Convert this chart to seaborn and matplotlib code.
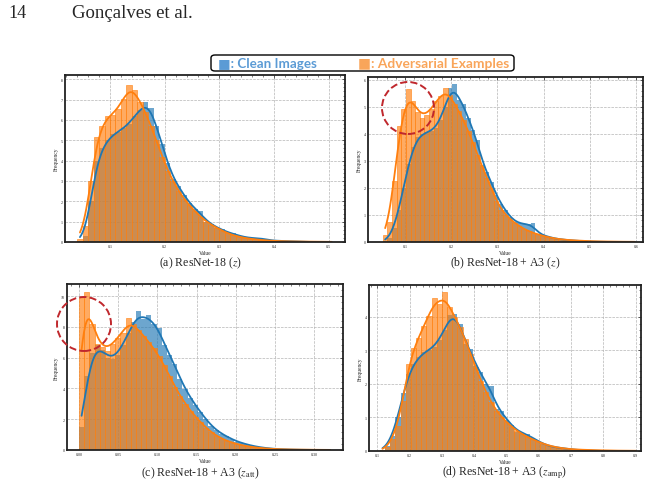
import numpy as np
import matplotlib.pyplot as plt
import seaborn as sns
from matplotlib.patches import Ellipse, FancyBboxPatch
from matplotlib.ticker import AutoMinorLocator, MultipleLocator, FormatStrFormatter

# per-bin heights (clean = blue, adversarial = orange)
a_clean = [0.05, 0.3, 2.0, 4.0, 4.6, 5.0, 5.3, 5.4, 5.6, 5.8,
           6.2, 6.5, 6.9, 6.6, 5.7, 4.8, 3.9, 3.1, 2.75, 2.3,
           1.93, 1.6, 1.5, 1.0, 0.9, 0.7, 0.62, 0.45, 0.43, 0.3,
           0.25, 0.2, 0.17, 0.22, 0.1, 0.08, 0.06, 0.05, 0.04, 0.03,
           0.02, 0.01, 0.0, 0.0, 0.0, 0.0, 0.0]
a_adv = [0.16, 0.8, 3.0, 5.15, 5.7, 6.2, 6.25, 6.55, 7.05, 7.7,
         7.45, 6.9, 6.4, 5.7, 5.0, 4.2, 3.5, 3.0, 2.5, 2.1,
         1.8, 1.5, 1.25, 1.0, 0.85, 0.7, 0.55, 0.42, 0.33, 0.26,
         0.2, 0.16, 0.13, 0.1, 0.08, 0.06, 0.05, 0.04, 0.03, 0.03,
         0.02, 0.02, 0.02, 0.015, 0.01, 0.01, 0.01]

b_clean = [0.02, 0.15, 0.5, 1.2, 2.0, 2.9, 3.5, 3.9, 4.0, 4.05,
           4.1, 4.2, 4.5, 5.0, 5.7, 5.83, 5.25, 5.1, 4.57, 4.14,
           3.77, 2.84, 2.6, 2.2, 1.73, 1.42, 1.17, 0.93, 0.74, 0.7,
           0.65, 0.66, 0.69, 0.28, 0.25, 0.22, 0.15, 0.12, 0.1, 0.08,
           0.06, 0.05, 0.04, 0.03, 0.02, 0.01, 0.01, 0.01, 0.0, 0.0,
           0.0, 0.0, 0.0, 0.0, 0.0]
b_adv = [0.25, 0.75, 2.25, 4.3, 4.9, 5.65, 5.2, 4.8, 4.6, 4.7,
         4.9, 5.2, 5.4, 5.7, 5.45, 5.1, 4.85, 4.5, 4.1, 3.7,
         3.2, 2.8, 2.35, 2.0, 1.5, 1.2, 1.0, 0.85, 0.7, 0.58,
         0.48, 0.4, 0.34, 0.28, 0.23, 0.19, 0.15, 0.12, 0.1, 0.08,
         0.07, 0.06, 0.05, 0.04, 0.03, 0.03, 0.02, 0.02, 0.02, 0.01,
         0.01, 0.01, 0.01, 0.01, 0.01]

c_clean = [1.5, 4.8, 6.3, 6.8, 6.5, 6.0, 5.9, 6.2, 6.8, 7.6,
           8.3, 9.0, 8.5, 8.74, 8.2, 7.9, 6.8, 6.14, 5.6, 4.6,
           3.97, 3.4, 2.9, 2.45, 2.0, 1.58, 1.3, 1.04, 0.9, 0.7,
           0.55, 0.45, 0.35, 0.27, 0.2, 0.15, 0.11, 0.08, 0.06, 0.04,
           0.03, 0.02, 0.015, 0.01, 0.005, 0.0, 0.0, 0.0, 0.0]
c_adv = [9.9, 10.26, 8.2, 6.9, 6.7, 6.4, 6.9, 7.3, 7.6, 8.55,
         8.2, 7.8, 7.4, 7.0, 6.6, 6.1, 5.5, 4.8, 4.1, 3.5,
         3.0, 2.55, 2.15, 1.8, 1.45, 1.15, 0.92, 0.74, 0.6, 0.48,
         0.38, 0.3, 0.24, 0.19, 0.15, 0.11, 0.09, 0.07, 0.05, 0.04,
         0.035, 0.03, 0.025, 0.02, 0.015, 0.01, 0.01, 0.01, 0.01]

d_clean = [0.03, 0.15, 0.45, 1.0, 1.73, 2.3, 2.6, 2.8, 2.95, 3.0,
           3.1, 3.3, 3.6, 4.06, 4.1, 3.8, 3.2, 3.05, 2.53, 2.35,
           2.0, 1.93, 1.25, 1.2, 0.93, 0.78, 0.58, 0.55, 0.5, 0.4,
           0.3, 0.22, 0.16, 0.12, 0.1, 0.08, 0.06, 0.04, 0.03, 0.02,
           0.02, 0.01, 0.0, 0.0, 0.0, 0.0, 0.0, 0.0, 0.0, 0.0]
d_adv = [0.02, 0.12, 0.35, 0.75, 1.5, 2.58, 3.08, 3.38, 3.73, 4.03,
         4.55, 4.38, 4.73, 4.28, 4.0, 3.7, 3.35, 2.9, 2.5, 2.1,
         1.75, 1.45, 1.2, 1.0, 0.85, 0.72, 0.6, 0.5, 0.42, 0.35,
         0.28, 0.22, 0.17, 0.13, 0.1, 0.08, 0.06, 0.05, 0.04, 0.035,
         0.03, 0.025, 0.02, 0.02, 0.015, 0.01, 0.01, 0.01, 0.01, 0.01]

captions = [r"(a) ResNet-18 ($z$)",
            r"(b) ResNet-18 + A3 ($z$)",
            r"(c) ResNet-18 + A3 ($z_{\mathrm{att}}$)",
            r"(d) ResNet-18 + A3 ($z_{\mathrm{amp}}$)"]

BLUE = "#1f77b4"
ORANGE = "#ff7f0e"
W, H = 657, 485

sns.set_theme(style="whitegrid")
plt.rcParams["font.family"] = ["Liberation Serif", "DejaVu Serif"]
plt.rcParams["mathtext.fontset"] = "stix"
plt.rcParams["axes.edgecolor"] = "#222222"
plt.rcParams["axes.linewidth"] = 1.3
plt.rcParams["grid.linestyle"] = "--"
plt.rcParams["grid.color"] = "#b5b5b5"
plt.rcParams["grid.linewidth"] = 0.5

fig = plt.figure(figsize=(W / 100, H / 100), dpi=100)


def px_rect(x0, y0, x1, y1):
    return [x0 / W, 1 - y1 / H, (x1 - x0) / W, (y1 - y0) / H]


def panel(rect, start, width, clean, adv, xlim, ylim, xstep, ystep, xfmt):
    ax = fig.add_axes(rect)
    n = len(clean)
    centers = start + width * (np.arange(n) + 0.5)
    # blue bars without outlines, orange bars outlined in orange
    for vals, col, lw in [(clean, BLUE, 0), (adv, ORANGE, 0.4)]:
        sns.histplot(x=centers, weights=vals, bins=n,
                     binrange=(start, start + n * width), stat="count", kde=True,
                     color=col, alpha=0.65, edgecolor=col, linewidth=lw,
                     kde_kws={"bw_adjust": 0.3, "cut": 0},
                     line_kws={"linewidth": 1.3}, ax=ax)
    ax.set_xlim(*xlim)
    ax.set_ylim(*ylim)
    ax.xaxis.set_major_locator(MultipleLocator(xstep))
    ax.yaxis.set_major_locator(MultipleLocator(ystep))
    ax.xaxis.set_major_formatter(FormatStrFormatter(xfmt))
    ax.xaxis.set_minor_locator(AutoMinorLocator(5))
    ax.yaxis.set_minor_locator(AutoMinorLocator(5))
    ax.tick_params(which="both", direction="in", top=True, right=True,
                   labelsize=3, pad=1.5, color="#222222")
    ax.tick_params(which="major", length=2.5, width=0.5)
    ax.tick_params(which="minor", length=1.3, width=0.4)
    ax.grid(True, which="major")
    ax.set_xlabel("Value", fontsize=4, labelpad=1.5)
    ax.set_ylabel("Frequency", fontsize=4, labelpad=1.5)
    return ax


panel(px_rect(65, 76, 345, 243), 0.040, 0.010, a_clean, a_adv,
      (0.0177, 0.5296), (0, 8.21), 0.1, 1, "%.1f")
panel(px_rect(368, 78, 643, 243), 0.052, 0.010, b_clean, b_adv,
      (0.0199, 0.615), (0, 6.1), 0.1, 1, "%.1f")
panel(px_rect(67, 285, 343, 451), 0.0, 0.0066, c_clean, c_adv,
      (-0.0153, 0.3367), (0, 10.78), 0.05, 2, "%.2f")
panel(px_rect(369, 286, 641, 452), 0.108, 0.016, d_clean, d_adv,
      (0.0743, 0.9164), (0, 4.95), 0.1, 1, "%.1f")

# captions under each panel
for (cx, cy), text in zip([(200, 263), (505, 263), (200, 473), (505, 473)], captions):
    fig.text(cx / W, 1 - cy / H, text, ha="center", va="center", fontsize=8.5)

# page header
fig.text(8 / W, 1 - 14 / H, "14", fontsize=13, va="center")
fig.text(72 / W, 1 - 14 / H, "Gonçalves et al.", fontsize=13.5, va="center")

# shared legend box
box = FancyBboxPatch((211 / W, 1 - 72 / H), 303 / W, 16 / H,
                     boxstyle="round,pad=0,rounding_size=0.006",
                     transform=fig.transFigure, facecolor="white",
                     edgecolor="black", linewidth=1.0)
fig.add_artist(box)
fig.text(218 / W, 1 - 64.5 / H, "■: Clean Images", color="#5b9bd5",
         fontweight="bold", fontsize=9.6, family=["Lato", "DejaVu Sans"], va="center")
fig.text(358 / W, 1 - 64.5 / H, "■: Adversarial Examples", color="#f9a55a",
         fontweight="bold", fontsize=9.9, family=["Lato", "DejaVu Sans"], va="center")

# dashed red circles marking the extra peak
for cx, cy, r in [(408, 109, 26), (84, 325, 27)]:
    fig.add_artist(Ellipse((cx / W, 1 - cy / H), 2 * r / W, 2 * r / H,
                           transform=fig.transFigure, fill=False,
                           edgecolor="#c0282d", linestyle="--", linewidth=1.4))

fig.savefig("out.png", dpi=100)
